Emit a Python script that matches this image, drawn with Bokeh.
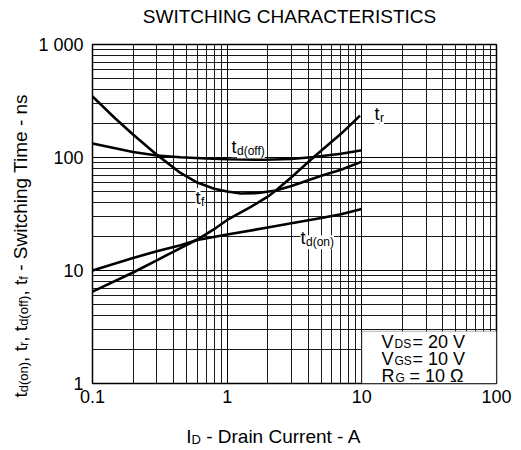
import math
from bokeh.plotting import figure
from bokeh.layouts import row, column
from bokeh.models import Label, BoxAnnotation, FixedTicker
from bokeh.embed import file_html
from bokeh.resources import INLINE

# ---------------- data ----------------
id_tdon = [0.1, 0.2, 0.3, 0.45, 0.6, 1, 2, 3, 5, 7, 10]
t_don = [10, 12.9, 14.8, 16.7, 18.6, 20.8, 24, 26.2, 29.2, 31.5, 35]

id_tr = [0.1, 0.2, 0.3, 0.45, 0.6, 0.8, 1, 1.5, 2, 2.3, 3, 4.4, 7, 9.7]
t_r = [6.5, 9.6, 12.3, 15.8, 18.8, 23.2, 28, 36.5, 45, 51, 67, 101, 162, 235]

id_tdoff = [0.1, 0.2, 0.3, 0.45, 0.7, 1, 1.9, 3, 4.4, 7, 10]
t_doff = [133, 112, 104, 100.5, 98, 96.5, 95.5, 97, 101, 108, 116]

id_tf = [0.1, 0.145, 0.2, 0.3, 0.45, 0.6, 0.8, 1, 1.26, 1.7, 2.3, 3, 4, 5, 7, 10]
t_f = [347, 226, 160, 106, 73, 60, 53, 50, 48, 48.5, 51, 56, 63, 69, 78, 92]

x_ticks = [0.1, 1, 10, 100]
x_tick_labels = ["0.1", "1", "10", "100"]
y_ticks = [1, 10, 100, 1000]
y_tick_labels = ["1", "10", "100", "1 000"]

title_text = "SWITCHING CHARACTERISTICS"
conditions = [("V", "DS", "= 20 V"), ("V", "GS", "= 10 V"), ("R", "G", "= 10 \u03a9")]

FONT = "Liberation Sans"
NB = "\u00a0"
PAGE_W, PAGE_H = 521, 450
LEFT_W, TOP_H, BOT_H = 35, 30, 30
MAIN_W, MAIN_H = PAGE_W - LEFT_W, PAGE_H - TOP_H - BOT_H
FL, FR, FT, FB = 91, 496, 44, 383  # page position of the plot area
B_LEFT, B_RIGHT = FL - LEFT_W, PAGE_W - FR

# ---------------- main chart ----------------
p = figure(width=MAIN_W, height=MAIN_H, x_axis_type="log", y_axis_type="log",
           x_range=(0.1, 100), y_range=(1, 1000), output_backend="svg",
           toolbar_location=None, title=None,
           min_border_left=B_LEFT, min_border_right=B_RIGHT,
           min_border_top=FT - TOP_H, min_border_bottom=TOP_H + MAIN_H - FB)
p.background_fill_color = "white"
p.border_fill_color = "white"
p.outline_line_color = "black"
p.outline_line_width = 1.5

x_minor = [m * 10.0 ** e for e in range(-1, 2) for m in range(2, 10)]
y_minor = [m * 10.0 ** e for e in range(0, 3) for m in range(2, 10)]
p.xaxis.ticker = FixedTicker(ticks=x_ticks, minor_ticks=x_minor)
p.yaxis.ticker = FixedTicker(ticks=y_ticks, minor_ticks=y_minor)
p.xaxis.major_label_overrides = {t: l for t, l in zip(x_ticks, x_tick_labels)}
p.yaxis.major_label_overrides = {t: l for t, l in zip(y_ticks, y_tick_labels)}

for ax in (p.xaxis[0], p.yaxis[0]):
    ax.axis_line_color = None
    ax.major_tick_line_color = None
    ax.minor_tick_line_color = None
    ax.major_tick_out = 0
    ax.major_tick_in = 0
    ax.minor_tick_out = 0
    ax.minor_tick_in = 0
    ax.major_label_text_font = FONT
    ax.major_label_text_font_size = "18px"
    ax.major_label_text_color = "black"
p.xaxis.major_label_standoff = 6
p.yaxis.major_label_standoff = 9

for g in (p.xgrid[0], p.ygrid[0]):
    g.grid_line_color = "black"
    g.grid_line_width = 1
    g.minor_grid_line_color = "#1a1a1a"
    g.minor_grid_line_width = 1

for xs, ys in ((id_tdon, t_don), (id_tr, t_r), (id_tdoff, t_doff), (id_tf, t_f)):
    p.line(xs, ys, line_color="black", line_width=2.6, line_join="round")

p.add_layout(BoxAnnotation(left=10, right=100, bottom=1, top=2.9,
                           fill_color="white", fill_alpha=1.0,
                           line_color="black", line_width=1.2))

def mid(base, size):
    return base - 0.35 * size

def plabel(text, px, pbase, size, bg=False):
    lab = Label(x=0.1, y=1, x_offset=px - FL, y_offset=FB - mid(pbase, size), text=text,
                text_font=FONT, text_font_size=f"{size}px", text_color="black",
                text_align="left", text_baseline="middle")
    if bg:
        lab.background_fill_color = "white"
    p.add_layout(lab)

for main, sub, px, py in (("t", "d(off)", 230, 153), ("t", "f", 194, 204),
                          ("t", "r", 373, 120), ("t", "d(on)", 299, 244)):
    plabel(main, px, py, 18, bg=True)
    plabel(sub, px + 5.5, py + 2, 12, bg=True)

for (a, b, c), base in zip(conditions, (348, 365, 382)):
    plabel(a, 380, base, 18)
    plabel(b, 393 if b != "G" else 394, base, 12)
    plabel(c, 411 if a == "V" else 408, base, 18)

# ---------------- text panels ----------------
def text_fig(w, h, xr, bl, br):
    f = figure(width=w, height=h, x_range=xr, y_range=(0, h), output_backend="svg",
               toolbar_location=None, title=None, min_border=0,
               min_border_left=bl, min_border_right=br,
               x_axis_location=None, y_axis_location=None)
    f.outline_line_color = None
    f.background_fill_color = "white"
    f.border_fill_color = "white"
    f.xgrid.visible = False
    f.ygrid.visible = False
    return f

W = {'t': 278, 'd': 556, '(': 333, ')': 333, 'o': 556, 'n': 556, ',': 278, ' ': 278,
     NB: 278, 'r': 333, 'f': 278, '-': 333, 'S': 667, 'w': 722, 'i': 222, 'c': 500,
     'h': 556, 'g': 556, 'T': 611, 'm': 833, 'e': 556, 's': 500, 'I': 278, 'D': 722,
     'a': 556, 'C': 722, 'u': 556, 'A': 667}

def tw(text, size):
    return sum(W.get(ch, 556) for ch in text) * size / 1000.0

def flabel(f, text, x, y, size, angle=0.0, align="left"):
    f.add_layout(Label(x=x, y=y, text=text, text_font=FONT, text_font_size=f"{size}px",
                       text_color="black", angle=angle, text_align=align,
                       text_baseline="middle"))

# title panel: frame aligned with the plot area, x in page pixels
top = text_fig(MAIN_W, TOP_H, (FL, FR), B_LEFT, B_RIGHT)
flabel(top, title_text, 288.5, TOP_H - mid(23, 19), 19, align="center")

# x-axis title panel (page y 420..450)
bot = text_fig(MAIN_W, BOT_H, (FL, FR), B_LEFT, B_RIGHT)
x_title = [("I", 19, 0), ("D", 13, 1), (NB + "- Drain Current - A", 19, 0)]
pos = 185.0
for text, size, sub in x_title:
    flabel(bot, text, pos, PAGE_H - mid(443 + sub, size), size)
    pos += tw(text, size)

# y-axis title panel (page x 0..35), reads bottom to top, baseline at x=27
left = text_fig(LEFT_W, PAGE_H, (0, LEFT_W), 0, 0)
y_title = [("t", 19, 0), ("d(on)", 13, 1), (", t", 19, 0), ("r", 13, 1),
           (", t", 19, 0), ("d(off)", 13, 1), (", t", 19, 0), ("f", 13, 1),
           (NB + "- Switching Time - ns", 19, 0)]
pos = 397.0
for text, size, sub in y_title:
    flabel(left, text, 27 + sub - 0.35 * size, PAGE_H - pos, size, angle=math.pi / 2)
    pos -= tw(text, size)

layout = row(left, column(top, p, bot, spacing=0), spacing=0)
open("out.html", "w").write(file_html(layout, INLINE))
